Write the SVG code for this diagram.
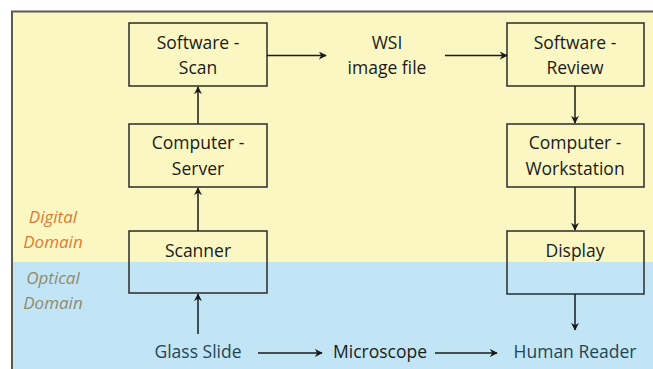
<svg xmlns="http://www.w3.org/2000/svg" width="653" height="369" viewBox="0 0 653 369">
  <defs>
    <marker id="arrow" viewBox="0 0 10 10" refX="9" refY="5" markerWidth="8" markerHeight="8" markerUnits="userSpaceOnUse" orient="auto">
      <path d="M0,0 L10,5 L0,10 L3,5 Z" fill="#1a1a1a"/>
    </marker>
    <style>
      .box { fill: none; stroke: #2b2b2b; stroke-width: 1.5; }
      .lbl { font-family: "Open Sans", "Liberation Sans", sans-serif; font-size: 17.5px; fill: #1a1a1a; text-anchor: middle; }
      .teal { fill: #1f4458; }
      .dom { font-family: "Open Sans", "Liberation Sans", sans-serif; font-size: 17px; font-style: italic; text-anchor: middle; }
      .conn { stroke: #1a1a1a; stroke-width: 1.5; fill: none; marker-end: url(#arrow); }
    </style>
  </defs>

  <!-- background: white margin, digital (yellow) and optical (blue) bands -->
  <rect x="0" y="0" width="653" height="369" fill="#ffffff"/>
  <rect x="12" y="11" width="641" height="251" fill="#fbf7c3"/>
  <rect x="12" y="262" width="641" height="107" fill="#c2e5f5"/>
  <path d="M12,369 V11.5 H653" fill="none" stroke="#5a5a4e" stroke-width="2"/>

  <!-- domain labels -->
  <g id="digital-domain">
    <text class="dom" x="53" y="223" fill="#e07a30">Digital</text>
    <text class="dom" x="53" y="248" fill="#e07a30">Domain</text>
  </g>
  <g id="optical-domain">
    <text class="dom" x="53" y="284" fill="#8f8a72">Optical</text>
    <text class="dom" x="53" y="309" fill="#8f8a72">Domain</text>
  </g>

  <!-- nodes -->
  <g id="software-scan">
    <rect class="box" x="129" y="23" width="138" height="63"/>
    <text class="lbl" x="198" y="49">Software -</text>
    <text class="lbl" x="198" y="74">Scan</text>
  </g>
  <g id="computer-server">
    <rect class="box" x="129" y="124" width="138" height="63"/>
    <text class="lbl" x="198" y="149">Computer -</text>
    <text class="lbl" x="198" y="175">Server</text>
  </g>
  <g id="scanner">
    <rect class="box" x="129" y="231" width="138" height="62"/>
    <text class="lbl" x="198" y="257">Scanner</text>
  </g>
  <g id="wsi-image-file">
    <text class="lbl" x="387" y="49">WSI</text>
    <text class="lbl" x="387" y="74">image file</text>
  </g>
  <g id="software-review">
    <rect class="box" x="507" y="23" width="137" height="63"/>
    <text class="lbl" x="575" y="49">Software -</text>
    <text class="lbl" x="575" y="74">Review</text>
  </g>
  <g id="computer-workstation">
    <rect class="box" x="507" y="124" width="137" height="63"/>
    <text class="lbl" x="575" y="149">Computer -</text>
    <text class="lbl" x="575" y="175">Workstation</text>
  </g>
  <g id="display">
    <rect class="box" x="507" y="231" width="137" height="63"/>
    <text class="lbl" x="575" y="257">Display</text>
  </g>
  <g id="glass-slide">
    <text class="lbl teal" x="198" y="358">Glass Slide</text>
  </g>
  <g id="microscope">
    <text class="lbl" x="380" y="358">Microscope</text>
  </g>
  <g id="human-reader">
    <text class="lbl teal" x="575" y="358">Human Reader</text>
  </g>

  <!-- connectors -->
  <g id="connectors">
    <line class="conn" x1="267" y1="55.5" x2="326" y2="55.5"/>
    <line class="conn" x1="445" y1="55.5" x2="507" y2="55.5"/>
    <line class="conn" x1="198" y1="124" x2="198" y2="87"/>
    <line class="conn" x1="198" y1="231" x2="198" y2="188"/>
    <line class="conn" x1="198" y1="334" x2="198" y2="294"/>
    <line class="conn" x1="575" y1="86" x2="575" y2="123"/>
    <line class="conn" x1="575" y1="187" x2="575" y2="230"/>
    <line class="conn" x1="575" y1="294" x2="575" y2="330"/>
    <line class="conn" x1="258" y1="353" x2="322" y2="353"/>
    <line class="conn" x1="435" y1="353" x2="497" y2="353"/>
  </g>
</svg>
